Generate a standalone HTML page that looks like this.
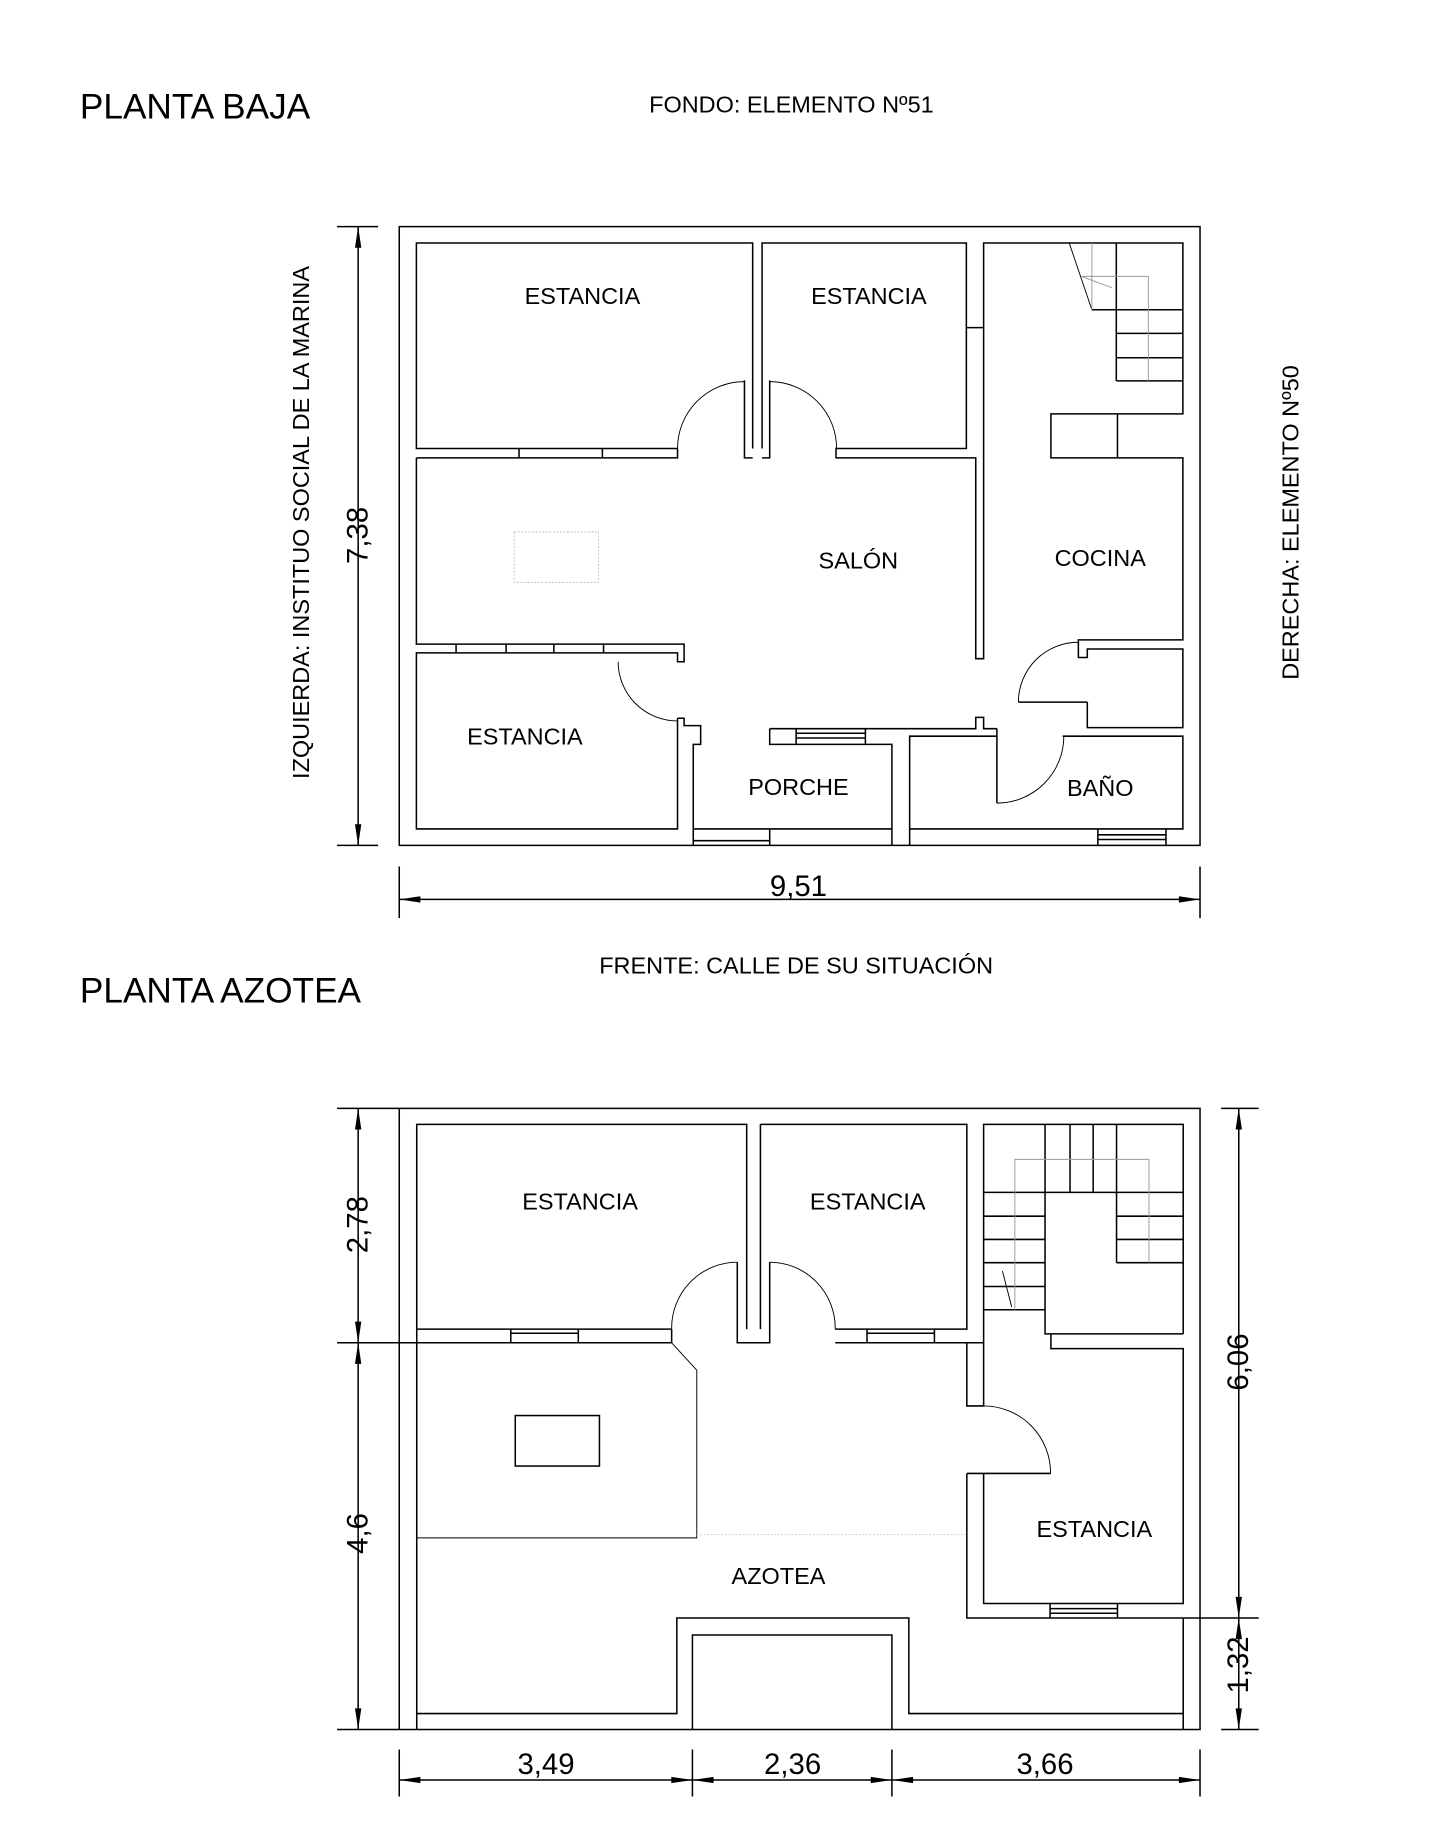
<!DOCTYPE html>
<html><head><meta charset="utf-8"><style>
html,body{margin:0;padding:0;background:#fff;}
svg{display:block;}
text{font-family:"Liberation Sans",sans-serif;fill:#000;}
</style></head><body>
<svg width="1439" height="1844" viewBox="0 0 1225.5 1570.5" xmlns="http://www.w3.org/2000/svg">
<rect x="0" y="0" width="1225.5" height="1570.5" fill="#fff"/>
<g fill="none" stroke="#000" stroke-width="1.3">
<!-- PLANTA BAJA -->
<rect x="340" y="193" width="682" height="527"/>
<path d="M577,382 H354.6 V207 H641 V382"/>
<path d="M354.6,390 H577 V382"/>
<path d="M442,382 V390 M513,382 V390"/>
<path d="M634,324 V390 H641 M655.5,324 V390 H649"/>
<path d="M649,382 V207 H823 V382 H712 V390 H831 V561 H837.7 V207 H1007.4 V352.5 H895 V390 H1007.4 V545 H918.4 V560 H926 V552.7 H1007.4 V619.7 H926 V598"/>
<path d="M823,279 H837.7 M951.7,352.5 V390"/>
<path d="M905,627 H1007.4 V706 H774.7 V627 H849 V620.6"/>
<path d="M849,627 V684"/>
<path d="M849,684 A57,57 0 0 0 906,627" stroke-width="0.8"/>
<path d="M867.3,598 H926"/>
<path d="M867.3,598 A51,51 0 0 1 918.4,547" stroke-width="0.8"/>
<path d="M655.5,620.6 H831 V611 H837.7 V620.6 H849"/>
<path d="M678,620.6 V634 M737,620.6 V634 M678,624.5 H737 M678,628.5 H737"/>
<path d="M655.5,620.6 V634 H759.6 V720 M774.7,706 V720"/>
<path d="M590.4,706 H655.5 M655.5,706 V720 M655.5,706 H759.6 M590.4,716 H655.5"/>
<path d="M935,706 V720 M993,706 V720 M935,711 H993 M935,715 H993"/>
<path d="M577,611.7 H582.6 V618 H596.7 V634 H590.4 V720"/>
<path d="M577,611.7 V706 H354.6 V556 H577 V563.6 H582.6 V548.6 H354.6 V390"/>
<path d="M388.4,548.6 V556 M431,548.6 V556 M471.7,548.6 V556 M514,548.6 V556"/>
<path d="M526.4,563.6 A50.6,50.6 0 0 0 577,614" stroke-width="0.8"/>
<path d="M577,382 A57,57 0 0 1 634,325" stroke-width="0.8"/>
<path d="M655.5,325 A57,57 0 0 1 712.5,382" stroke-width="0.8"/>
<path d="M910.6,207 L929.9,263.8" stroke-width="0.8"/>
<path d="M950.7,207 V324.4 M929.9,263.8 H1007.4 M950.7,283.9 H1007.4 M950.7,304.7 H1007.4 M950.7,324.4 H1007.4"/>
<path d="M929.9,207 V263.8 M978,235.4 V324.4 M921,235.4 H978 M921,235.4 L947,245" stroke="#999" stroke-width="0.8"/>
<rect x="437.9" y="453" width="71.8" height="43" stroke="#bbb" stroke-width="0.8" stroke-dasharray="1.5,1.5"/>
<path d="M305,193 V720 M287,193 H322 M287,720 H322"/>
<path d="M340,766 H1022 M340,738 V782 M1022,738 V782"/>
<!-- PLANTA AZOTEA -->
<rect x="340" y="944" width="682" height="529"/>
<path d="M354.9,957.6 V1473"/>
<path d="M572,1132 H354.9 V957.6 H635.9 V1132"/>
<path d="M287,1143.6 H572 V1132"/>
<path d="M435,1132 V1143.6 M492.5,1132 V1143.6 M435,1135.5 H492.5"/>
<path d="M627.9,1075 V1143.6 H655.5 V1075 M647.6,957.6 V1132"/>
<path d="M647.6,957.6 H823.4 V1132 H711.3 M711.3,1143.6 H837.7"/>
<path d="M738.4,1132 V1143.6 M795.8,1132 V1143.6 M738.4,1135.5 H795.8"/>
<path d="M572,1132 A56,56 0 0 1 627.9,1075" stroke-width="0.8"/>
<path d="M655.5,1075 A56,56 0 0 1 711.3,1132" stroke-width="0.8"/>
<path d="M823.4,1143.6 V1197.4 H837.7 V957.6 H1007.7 V1136"/>
<path d="M837.7,1197.4 A57,57 0 0 1 894.7,1254.9" stroke-width="0.8"/>
<path d="M823.4,1254.9 H894.7 M823.4,1254.9 V1378 H1007.7"/>
<path d="M837.7,1254.9 V1365.7 H1007.7 V1148.6 H895 V1136"/>
<path d="M894.3,1365.7 V1378 M951.7,1365.7 V1378 M894.3,1370 H951.7 M894.3,1374 H951.7"/>
<path d="M1007.7,1378 V1473"/>
<path d="M354.9,1459.4 H576.4 V1378 H774 V1459.4 H1007.7"/>
<path d="M589.7,1473 V1392.5 H759.6 V1473"/>
<path d="M890,957.6 V1015.5 M911.3,957.6 V1015.5 M931,957.6 V1015.5 M950.9,957.6 V1015.5 M837.7,1015.5 H1007.7"/>
<path d="M837.7,1035.8 H890 M837.7,1055.6 H890 M837.7,1075.4 H890 M837.7,1095.7 H890 M837.7,1115.5 H890"/>
<path d="M890,1015.5 V1136 H1007.7"/>
<path d="M950.9,1015.5 V1075.4 M950.9,1035.8 H1007.7 M950.9,1055.6 H1007.7 M950.9,1075.4 H1007.7"/>
<path d="M864.3,1115.5 V987.4 H978.5 V1075.4" stroke="#999" stroke-width="0.8"/>
<path d="M853.7,1082.5 L861.6,1113" stroke-width="0.8"/>
<path d="M572,1143.6 L593.4,1167 V1309.8 H354.9" stroke-width="0.8"/>
<path d="M593.4,1307 H823" stroke="#ccc" stroke-width="0.8" stroke-dasharray="1.5,1.5"/>
<rect x="438.8" y="1205.6" width="71.7" height="43"/>
<path d="M305,944 V1473 M287,944 H340 M287,1473 H340"/>
<path d="M1055,944 V1473 M1040,944 H1072 M1040,1473 H1072 M1007.7,1378 H1072"/>
<path d="M340,1516 H1022 M340,1490 V1530 M589.7,1490 V1530 M759.6,1490 V1530 M1022,1490 V1530"/>
</g>
<g fill="#000">
<polygon points="305,193 302.3,211 307.7,211"/><polygon points="305,720 302.3,702 307.7,702"/>
<polygon points="340,766 358,763.3 358,768.7"/><polygon points="1022,766 1004,763.3 1004,768.7"/>
<polygon points="305,944 302.3,962 307.7,962"/><polygon points="305,1143.6 302.3,1125.6 307.7,1125.6"/>
<polygon points="305,1143.6 302.3,1161.6 307.7,1161.6"/><polygon points="305,1473 302.3,1455 307.7,1455"/>
<polygon points="1055,944 1052.3,962 1057.7,962"/><polygon points="1055,1378 1052.3,1360 1057.7,1360"/>
<polygon points="1055,1378 1052.3,1396 1057.7,1396"/><polygon points="1055,1473 1052.3,1455 1057.7,1455"/>
<polygon points="340,1516 358,1513.3 358,1518.7"/><polygon points="589.7,1516 571.7,1513.3 571.7,1518.7"/>
<polygon points="589.7,1516 607.7,1513.3 607.7,1518.7"/><polygon points="759.6,1516 741.6,1513.3 741.6,1518.7"/>
<polygon points="759.6,1516 777.6,1513.3 777.6,1518.7"/><polygon points="1022,1516 1004,1513.3 1004,1518.7"/>
</g>
<g font-size="20" text-anchor="middle">
<text x="496" y="259">ESTANCIA</text>
<text x="740" y="259">ESTANCIA</text>
<text x="731" y="484">SALÓN</text>
<text x="937" y="482">COCINA</text>
<text x="447" y="634">ESTANCIA</text>
<text x="680" y="677">PORCHE</text>
<text x="937" y="678">BAÑO</text>
<text x="494" y="1030">ESTANCIA</text>
<text x="739" y="1030">ESTANCIA</text>
<text x="932" y="1309">ESTANCIA</text>
<text x="663" y="1349">AZOTEA</text>
<text x="674" y="96">FONDO: ELEMENTO Nº51</text>
<text x="678" y="829">FRENTE: CALLE DE SU SITUACIÓN</text>
<text transform="translate(263,445) rotate(-90)">IZQUIERDA: INSTITUO SOCIAL DE LA MARINA</text>
<text transform="translate(1106,445) rotate(-90)">DERECHA: ELEMENTO Nº50</text>
</g>
<g font-size="25" text-anchor="middle">
<text x="680" y="763">9,51</text>
<text transform="translate(313,456) rotate(-90)">7,38</text>
<text transform="translate(313,1043) rotate(-90)">2,78</text>
<text transform="translate(313,1306) rotate(-90)">4,6</text>
<text transform="translate(1063,1160) rotate(-90)">6,06</text>
<text transform="translate(1063,1418) rotate(-90)">1,32</text>
<text x="465" y="1511">3,49</text>
<text x="675" y="1511">2,36</text>
<text x="890" y="1511">3,66</text>
</g>
<g font-size="30">
<text x="68" y="101">PLANTA BAJA</text>
<text x="68" y="854">PLANTA AZOTEA</text>
</g>
</svg>
</body></html>
